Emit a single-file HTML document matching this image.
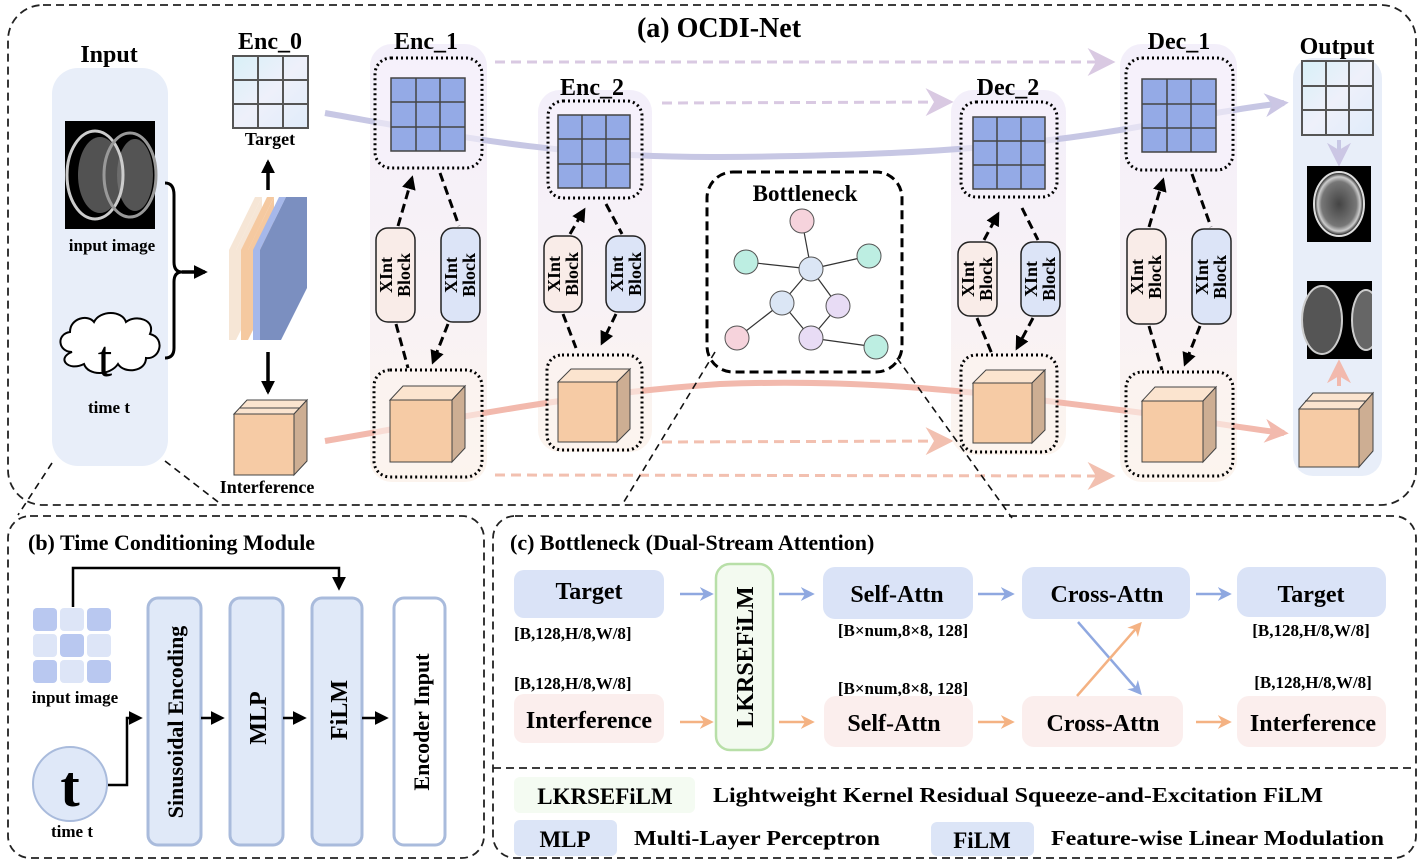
<!DOCTYPE html>
<html><head><meta charset="utf-8"><style>
html,body{margin:0;padding:0;background:#fff;}
svg{display:block;font-family:"Liberation Serif",serif;font-weight:bold;}
</style></head><body>
<svg width="1422" height="864" viewBox="0 0 1422 864" xmlns="http://www.w3.org/2000/svg">
<defs>
<linearGradient id="col" x1="0" y1="0" x2="0" y2="1"><stop offset="0" stop-color="#f3effa"/><stop offset="0.55" stop-color="#f8f2f6"/><stop offset="1" stop-color="#fcf4ee"/></linearGradient>
<linearGradient id="pas" x1="0" y1="0" x2="1" y2="1"><stop offset="0" stop-color="#d8f0f8"/><stop offset="0.5" stop-color="#eef0fa"/><stop offset="1" stop-color="#e0ecfa"/></linearGradient>
<marker id="mkb" viewBox="0 0 10 10" markerWidth="14" markerHeight="14" refX="8" refY="5" orient="auto" markerUnits="userSpaceOnUse"><path d="M0,0 L10,5 L0,10z" fill="#000"/></marker>
<marker id="mlav" viewBox="0 0 10 10" markerWidth="24" markerHeight="24" refX="8" refY="5" orient="auto" markerUnits="userSpaceOnUse"><path d="M0,0 L10,5 L0,10 L3,5z" fill="#cbc6e4"/></marker>
<marker id="mpch" viewBox="0 0 10 10" markerWidth="24" markerHeight="24" refX="8" refY="5" orient="auto" markerUnits="userSpaceOnUse"><path d="M0,0 L10,5 L0,10 L3,5z" fill="#f2b9ad"/></marker>
<marker id="mlavd" viewBox="0 0 10 10" markerWidth="28" markerHeight="28" refX="8" refY="5" orient="auto" markerUnits="userSpaceOnUse"><path d="M0,0 L10,5 L0,10 L3,5z" fill="#d9c9e2"/></marker>
<marker id="mpchd" viewBox="0 0 10 10" markerWidth="28" markerHeight="28" refX="8" refY="5" orient="auto" markerUnits="userSpaceOnUse"><path d="M0,0 L10,5 L0,10 L3,5z" fill="#f2c0b0"/></marker>
<marker id="mblu" viewBox="0 0 10 10" markerWidth="14" markerHeight="14" refX="8" refY="5" orient="auto" markerUnits="userSpaceOnUse"><path d="M0,0 L10,5 L0,10 L3,5z" fill="#8fa8e0"/></marker>
<marker id="morg" viewBox="0 0 10 10" markerWidth="14" markerHeight="14" refX="8" refY="5" orient="auto" markerUnits="userSpaceOnUse"><path d="M0,0 L10,5 L0,10 L3,5z" fill="#f4b283"/></marker>
<radialGradient id="brain" cx="0.5" cy="0.5" r="0.5"><stop offset="0" stop-color="#444"/><stop offset="0.7" stop-color="#777"/><stop offset="0.85" stop-color="#ccc"/><stop offset="1" stop-color="#000"/></radialGradient>
</defs>

<rect x="8" y="5" width="1408" height="500" rx="35" fill="none" stroke="#222" stroke-width="1.8" stroke-dasharray="8,5"/>
<rect x="8" y="516" width="476" height="342" rx="22" fill="none" stroke="#222" stroke-width="1.8" stroke-dasharray="8,5"/>
<rect x="493" y="516" width="923" height="342" rx="22" fill="none" stroke="#222" stroke-width="1.8" stroke-dasharray="8,5"/>
<line x1="493" y1="768" x2="1416" y2="768" stroke="#222" stroke-width="1.8" stroke-dasharray="8,5"/>

<text x="719" y="37" font-size="28" text-anchor="middle">(a) OCDI-Net</text>

<rect x="52" y="68" width="116" height="398" rx="26" fill="#e8eef9"/>
<text x="109" y="62" font-size="24" text-anchor="middle">Input</text>
<rect x="65" y="121" width="90" height="108" fill="#000"/>
<ellipse cx="100" cy="175" rx="22" ry="38" fill="#666" opacity="0.8"/>
<ellipse cx="135" cy="175" rx="18" ry="36" fill="#777" opacity="0.7"/>
<ellipse cx="95" cy="175" rx="28" ry="44" fill="none" stroke="#ccc" stroke-width="3"/>
<ellipse cx="130" cy="175" rx="26" ry="42" fill="none" stroke="#999" stroke-width="3"/>
<text x="112" y="251" font-size="17" text-anchor="middle">input image</text>
<path d="M72,352 C58,352 56,334 70,332 C70,318 88,314 94,322 C100,310 122,310 126,322 C136,314 156,320 150,334 C166,338 160,360 146,358 C146,372 124,374 118,364 C110,376 88,376 84,364 C68,372 56,358 72,352z" fill="#fff" stroke="#000" stroke-width="2"/>
<text x="105" y="376" font-size="52" font-weight="normal" text-anchor="middle">t</text>
<text x="109" y="413" font-size="17" text-anchor="middle">time t</text>
<path d="M165,183 Q174,183 174,195 L174,262 Q174,272 182,272 Q174,272 174,282 L174,348 Q174,358 165,358" fill="none" stroke="#000" stroke-width="3"/>
<line x1="182" y1="272" x2="205" y2="272" stroke="#000" stroke-width="3.5" marker-end="url(#mkb)"/>

<polygon points="229,250 255,197 262,197 236,250 236,340 229,340" fill="#f6e6d6"/>
<polygon points="236,250 262,197 262,288 236,340" fill="#f6e6d6"/>
<polygon points="241,250 267,197 274,197 248,250 248,340 241,340" fill="#f5c9a0"/>
<polygon points="248,250 274,197 274,288 248,340" fill="#f5c9a0"/>
<polygon points="253,250 279,197 286,197 260,250 260,340 253,340" fill="#a6b8ea"/>
<polygon points="260,250 286,197 307,197 307,288 281,340 260,340" fill="#7b8fc0"/>
<line x1="268" y1="190" x2="268" y2="162" stroke="#000" stroke-width="3.5" marker-end="url(#mkb)"/>
<line x1="268" y1="352" x2="268" y2="392" stroke="#000" stroke-width="3.5" marker-end="url(#mkb)"/>

<text x="270" y="49" font-size="24" text-anchor="middle">Enc_0</text>
<rect x="233" y="56" width="75" height="72" fill="url(#pas)" stroke="#555" stroke-width="2"/>
<line x1="258" y1="56" x2="258" y2="128" stroke="#555" stroke-width="2"/><line x1="283" y1="56" x2="283" y2="128" stroke="#555" stroke-width="2"/>
<line x1="233" y1="80" x2="308" y2="80" stroke="#555" stroke-width="2"/><line x1="233" y1="104" x2="308" y2="104" stroke="#555" stroke-width="2"/>
<text x="270" y="145" font-size="18" text-anchor="middle">Target</text>
<polygon points="234,414 247,400 307,400 294,414" fill="#fbe4cf" stroke="#444"/>
<line x1="240" y1="408" x2="300" y2="408" stroke="#444"/>
<rect x="234" y="414" width="60" height="61" fill="#f6cba5" stroke="#444"/>
<polygon points="294,414 307,400 307,461 294,475" fill="#cdae93" stroke="#444"/>
<text x="267" y="493" font-size="18" text-anchor="middle">Interference</text>

<line x1="495" y1="62" x2="1110" y2="62" stroke="#d9c9e2" stroke-width="3" stroke-dasharray="10,6" marker-end="url(#mlavd)"/>
<line x1="662" y1="103" x2="948" y2="102" stroke="#d9c9e2" stroke-width="3" stroke-dasharray="10,6" marker-end="url(#mlavd)"/>
<line x1="662" y1="442" x2="948" y2="441" stroke="#f2c0b0" stroke-width="3" stroke-dasharray="10,6" marker-end="url(#mpchd)"/>
<line x1="495" y1="475" x2="1110" y2="476" stroke="#f2c0b0" stroke-width="3" stroke-dasharray="10,6" marker-end="url(#mpchd)"/>

<rect x="370" y="44" width="117" height="438" rx="22" fill="url(#col)"/>
<rect x="538" y="90" width="114" height="362" rx="22" fill="url(#col)"/>
<rect x="951" y="90" width="115" height="365" rx="22" fill="url(#col)"/>
<rect x="1120" y="44" width="117" height="438" rx="22" fill="url(#col)"/>
<rect x="1293" y="58" width="89" height="418" rx="20" fill="#e8eef9"/>

<path d="M325,113 C450,135 560,158 720,157 C880,156 1000,150 1120,130 C1200,116 1240,108 1284,103" fill="none" stroke="#c7c7e4" stroke-width="6" marker-end="url(#mlav)"/>
<path d="M325,441 C450,420 560,395 720,384 C880,378 1000,395 1120,410 C1200,420 1240,428 1284,433" fill="none" stroke="#f2b9ad" stroke-width="6" marker-end="url(#mpch)"/>

<g>
<text x="426" y="49" font-size="24" text-anchor="middle">Enc_1</text>
<rect x="375" y="58" width="107" height="110" rx="16" fill="#f6f1fb" fill-opacity="0.6" stroke="#000" stroke-width="3" stroke-dasharray="2,3"/>
<rect x="391" y="78" width="74" height="73" fill="#94aae6" stroke="#444" stroke-width="1.5"/>
<line x1="416" y1="78" x2="416" y2="151" stroke="#444" stroke-width="1.5"/><line x1="440" y1="78" x2="440" y2="151" stroke="#444" stroke-width="1.5"/>
<line x1="391" y1="102" x2="465" y2="102" stroke="#444" stroke-width="1.5"/><line x1="391" y1="127" x2="465" y2="127" stroke="#444" stroke-width="1.5"/>
<rect x="374" y="370" width="108" height="107" rx="16" fill="#fbf4ef" fill-opacity="0.6" stroke="#000" stroke-width="3" stroke-dasharray="2,3"/>
<polygon points="390,400 403,386 465,386 452,400" fill="#fbe4cf" stroke="#444"/>
<rect x="390" y="400" width="62" height="62" fill="#f6cba5" stroke="#444"/>
<polygon points="452,400 465,386 465,448 452,462" fill="#cdae93" stroke="#444"/>
<rect x="376" y="228" width="39" height="94" rx="12" fill="#f9ece8" stroke="#222" stroke-width="1.5"/>
<rect x="441" y="228" width="39" height="94" rx="12" fill="#dce4f7" stroke="#222" stroke-width="1.5"/>
<text transform="translate(395,275) rotate(-90)" font-size="18" text-anchor="middle"><tspan x="0" y="-3">XInt</tspan><tspan x="0" y="15">Block</tspan></text>
<text transform="translate(460,275) rotate(-90)" font-size="18" text-anchor="middle"><tspan x="0" y="-3">XInt</tspan><tspan x="0" y="15">Block</tspan></text>
<line x1="398" y1="226" x2="412" y2="178" stroke="#000" stroke-width="3" stroke-dasharray="9,5" marker-end="url(#mkb)"/>
<line x1="440" y1="173" x2="459" y2="226" stroke="#000" stroke-width="3" stroke-dasharray="9,5"/>
<line x1="448" y1="324" x2="433" y2="362" stroke="#000" stroke-width="3" stroke-dasharray="9,5" marker-end="url(#mkb)"/>
<line x1="396" y1="324" x2="408" y2="368" stroke="#000" stroke-width="3" stroke-dasharray="9,5"/>
</g>

<g>
<text x="592" y="95" font-size="24" text-anchor="middle">Enc_2</text>
<rect x="548" y="101" width="94" height="97" rx="15" fill="#f6f1fb" fill-opacity="0.6" stroke="#000" stroke-width="3" stroke-dasharray="2,3"/>
<rect x="558" y="115" width="72" height="73" fill="#94aae6" stroke="#444" stroke-width="1.5"/>
<line x1="582" y1="115" x2="582" y2="188" stroke="#444" stroke-width="1.5"/><line x1="606" y1="115" x2="606" y2="188" stroke="#444" stroke-width="1.5"/>
<line x1="558" y1="139" x2="630" y2="139" stroke="#444" stroke-width="1.5"/><line x1="558" y1="164" x2="630" y2="164" stroke="#444" stroke-width="1.5"/>
<rect x="547" y="355" width="95" height="95" rx="15" fill="#fbf4ef" fill-opacity="0.6" stroke="#000" stroke-width="3" stroke-dasharray="2,3"/>
<polygon points="558,382 571,369 630,369 617,382" fill="#fbe4cf" stroke="#444"/>
<rect x="558" y="382" width="59" height="60" fill="#f6cba5" stroke="#444"/>
<polygon points="617,382 630,369 630,429 617,442" fill="#cdae93" stroke="#444"/>
<rect x="544" y="236" width="38" height="76" rx="12" fill="#f9ece8" stroke="#222" stroke-width="1.5"/>
<rect x="606" y="236" width="39" height="76" rx="12" fill="#dce4f7" stroke="#222" stroke-width="1.5"/>
<text transform="translate(563,274) rotate(-90)" font-size="18" text-anchor="middle"><tspan x="0" y="-3">XInt</tspan><tspan x="0" y="15">Block</tspan></text>
<text transform="translate(626,274) rotate(-90)" font-size="18" text-anchor="middle"><tspan x="0" y="-3">XInt</tspan><tspan x="0" y="15">Block</tspan></text>
<line x1="570" y1="234" x2="584" y2="210" stroke="#000" stroke-width="3" stroke-dasharray="9,5" marker-end="url(#mkb)"/>
<line x1="606" y1="204" x2="622" y2="234" stroke="#000" stroke-width="3" stroke-dasharray="9,5"/>
<line x1="616" y1="314" x2="602" y2="343" stroke="#000" stroke-width="3" stroke-dasharray="9,5" marker-end="url(#mkb)"/>
<line x1="563" y1="314" x2="576" y2="348" stroke="#000" stroke-width="3" stroke-dasharray="9,5"/>
</g>

<rect x="707" y="172" width="195" height="200" rx="26" fill="#fff" stroke="#000" stroke-width="3" stroke-dasharray="9,5"/>
<text x="805" y="201" font-size="23" text-anchor="middle">Bottleneck</text>
<g stroke="#333" stroke-width="1.2">
<line x1="802" y1="221" x2="811" y2="269"/><line x1="746" y1="262" x2="811" y2="269"/><line x1="869" y1="256" x2="811" y2="269"/>
<line x1="811" y1="269" x2="782" y2="303"/><line x1="811" y1="269" x2="838" y2="306"/><line x1="782" y1="303" x2="737" y2="338"/>
<line x1="782" y1="303" x2="811" y2="338"/><line x1="838" y1="306" x2="811" y2="338"/><line x1="811" y1="338" x2="876" y2="347"/>
</g>
<g stroke="#555" stroke-width="1">
<ellipse cx="802" cy="221" rx="12" ry="12" fill="#f6d3dc"/>
<ellipse cx="746" cy="262" rx="12" ry="12" fill="#bdeee2"/>
<ellipse cx="811" cy="269" rx="12" ry="12" fill="#dbe6f5"/>
<ellipse cx="869" cy="256" rx="12" ry="12" fill="#bdeee2"/>
<ellipse cx="782" cy="303" rx="12" ry="12" fill="#dbe6f5"/>
<ellipse cx="838" cy="306" rx="12" ry="12" fill="#e8dcf5"/>
<ellipse cx="737" cy="338" rx="12" ry="12" fill="#f6d3dc"/>
<ellipse cx="811" cy="338" rx="12" ry="12" fill="#e8dcf5"/>
<ellipse cx="876" cy="347" rx="12" ry="12" fill="#bdeee2"/>
</g>

<g>
<text x="1008" y="95" font-size="24" text-anchor="middle">Dec_2</text>
<rect x="961" y="102" width="96" height="95" rx="15" fill="#f6f1fb" fill-opacity="0.6" stroke="#000" stroke-width="3" stroke-dasharray="2,3"/>
<rect x="973" y="117" width="72" height="72" fill="#94aae6" stroke="#444" stroke-width="1.5"/>
<line x1="997" y1="117" x2="997" y2="189" stroke="#444" stroke-width="1.5"/><line x1="1021" y1="117" x2="1021" y2="189" stroke="#444" stroke-width="1.5"/>
<line x1="973" y1="141" x2="1045" y2="141" stroke="#444" stroke-width="1.5"/><line x1="973" y1="165" x2="1045" y2="165" stroke="#444" stroke-width="1.5"/>
<rect x="961" y="355" width="96" height="97" rx="15" fill="#fbf4ef" fill-opacity="0.6" stroke="#000" stroke-width="3" stroke-dasharray="2,3"/>
<polygon points="973,383 986,370 1045,370 1032,383" fill="#fbe4cf" stroke="#444"/>
<rect x="973" y="383" width="59" height="60" fill="#f6cba5" stroke="#444"/>
<polygon points="1032,383 1045,370 1045,430 1032,443" fill="#cdae93" stroke="#444"/>
<rect x="958" y="242" width="39" height="74" rx="12" fill="#f9ece8" stroke="#222" stroke-width="1.5"/>
<rect x="1021" y="242" width="39" height="74" rx="12" fill="#dce4f7" stroke="#222" stroke-width="1.5"/>
<text transform="translate(977,279) rotate(-90)" font-size="18" text-anchor="middle"><tspan x="0" y="-3">XInt</tspan><tspan x="0" y="15">Block</tspan></text>
<text transform="translate(1040,279) rotate(-90)" font-size="18" text-anchor="middle"><tspan x="0" y="-3">XInt</tspan><tspan x="0" y="15">Block</tspan></text>
<line x1="984" y1="240" x2="998" y2="214" stroke="#000" stroke-width="3" stroke-dasharray="9,5" marker-end="url(#mkb)"/>
<line x1="1022" y1="208" x2="1038" y2="240" stroke="#000" stroke-width="3" stroke-dasharray="9,5"/>
<line x1="1033" y1="318" x2="1017" y2="348" stroke="#000" stroke-width="3" stroke-dasharray="9,5" marker-end="url(#mkb)"/>
<line x1="977" y1="318" x2="992" y2="354" stroke="#000" stroke-width="3" stroke-dasharray="9,5"/>
</g>

<g>
<text x="1179" y="49" font-size="24" text-anchor="middle">Dec_1</text>
<rect x="1126" y="58" width="107" height="112" rx="16" fill="#f6f1fb" fill-opacity="0.6" stroke="#000" stroke-width="3" stroke-dasharray="2,3"/>
<rect x="1142" y="79" width="74" height="73" fill="#94aae6" stroke="#444" stroke-width="1.5"/>
<line x1="1167" y1="79" x2="1167" y2="152" stroke="#444" stroke-width="1.5"/><line x1="1191" y1="79" x2="1191" y2="152" stroke="#444" stroke-width="1.5"/>
<line x1="1142" y1="104" x2="1216" y2="104" stroke="#444" stroke-width="1.5"/><line x1="1142" y1="128" x2="1216" y2="128" stroke="#444" stroke-width="1.5"/>
<rect x="1126" y="372" width="107" height="104" rx="16" fill="#fbf4ef" fill-opacity="0.6" stroke="#000" stroke-width="3" stroke-dasharray="2,3"/>
<polygon points="1142,401 1155,387 1216,387 1203,401" fill="#fbe4cf" stroke="#444"/>
<rect x="1142" y="401" width="61" height="61" fill="#f6cba5" stroke="#444"/>
<polygon points="1203,401 1216,387 1216,448 1203,462" fill="#cdae93" stroke="#444"/>
<rect x="1127" y="229" width="39" height="95" rx="12" fill="#f9ece8" stroke="#222" stroke-width="1.5"/>
<rect x="1192" y="229" width="39" height="95" rx="12" fill="#dce4f7" stroke="#222" stroke-width="1.5"/>
<text transform="translate(1146,277) rotate(-90)" font-size="18" text-anchor="middle"><tspan x="0" y="-3">XInt</tspan><tspan x="0" y="15">Block</tspan></text>
<text transform="translate(1211,277) rotate(-90)" font-size="18" text-anchor="middle"><tspan x="0" y="-3">XInt</tspan><tspan x="0" y="15">Block</tspan></text>
<line x1="1149" y1="227" x2="1163" y2="180" stroke="#000" stroke-width="3" stroke-dasharray="9,5" marker-end="url(#mkb)"/>
<line x1="1192" y1="174" x2="1211" y2="227" stroke="#000" stroke-width="3" stroke-dasharray="9,5"/>
<line x1="1200" y1="326" x2="1185" y2="364" stroke="#000" stroke-width="3" stroke-dasharray="9,5" marker-end="url(#mkb)"/>
<line x1="1149" y1="326" x2="1162" y2="370" stroke="#000" stroke-width="3" stroke-dasharray="9,5"/>
</g>

<text x="1337" y="54" font-size="24" text-anchor="middle">Output</text>
<rect x="1302" y="61" width="71" height="74" fill="url(#pas)" stroke="#555" stroke-width="2"/>
<line x1="1326" y1="61" x2="1326" y2="135" stroke="#555" stroke-width="2"/><line x1="1349" y1="61" x2="1349" y2="135" stroke="#555" stroke-width="2"/>
<line x1="1302" y1="86" x2="1373" y2="86" stroke="#555" stroke-width="2"/><line x1="1302" y1="110" x2="1373" y2="110" stroke="#555" stroke-width="2"/>
<line x1="1339" y1="140" x2="1339" y2="162" stroke="#c7c7e4" stroke-width="4" marker-end="url(#mlav)"/>
<rect x="1307" y="166" width="64" height="76" fill="#000"/>
<ellipse cx="1339" cy="204" rx="25" ry="32" fill="url(#brain)" stroke="#ddd" stroke-width="2"/>
<rect x="1307" y="281" width="65" height="78" fill="#000"/>
<ellipse cx="1322" cy="320" rx="20" ry="34" fill="#555" stroke="#ccc" stroke-width="2"/>
<ellipse cx="1366" cy="320" rx="14" ry="30" fill="#666" stroke="#ccc" stroke-width="2"/>
<rect x="1372" y="281" width="10" height="78" fill="#e8eef9"/>
<line x1="1339" y1="386" x2="1339" y2="364" stroke="#f2b9ad" stroke-width="4" marker-end="url(#mpch)"/>
<polygon points="1299,409 1313,393 1373,393 1359,409" fill="#fbe4cf" stroke="#444"/>
<line x1="1305" y1="401" x2="1367" y2="401" stroke="#444"/>
<rect x="1299" y="409" width="60" height="58" fill="#f6cba5" stroke="#444"/>
<polygon points="1359,409 1373,393 1373,451 1359,467" fill="#cdae93" stroke="#444"/>

<g stroke="#111" stroke-width="1.6" stroke-dasharray="7,5">
<line x1="52" y1="463" x2="18" y2="515"/>
<line x1="165" y1="461" x2="222" y2="505"/>
<line x1="715" y1="352" x2="622" y2="505"/>
<line x1="897" y1="358" x2="1012" y2="518"/>
</g>

<text x="28" y="550" font-size="22">(b) Time Conditioning Module</text>
<rect x="33" y="608" width="24" height="23" rx="4" fill="#b9c8f0"/><rect x="60" y="608" width="24" height="23" rx="4" fill="#dde5f7"/><rect x="87" y="608" width="24" height="23" rx="4" fill="#b9c8f0"/>
<rect x="33" y="634" width="24" height="23" rx="4" fill="#dde5f7"/><rect x="60" y="634" width="24" height="23" rx="4" fill="#b9c8f0"/><rect x="87" y="634" width="24" height="23" rx="4" fill="#dde5f7"/>
<rect x="33" y="660" width="24" height="23" rx="4" fill="#b9c8f0"/><rect x="60" y="660" width="24" height="23" rx="4" fill="#dde5f7"/><rect x="87" y="660" width="24" height="23" rx="4" fill="#b9c8f0"/>
<text x="75" y="703" font-size="17" text-anchor="middle">input image</text>
<circle cx="70" cy="784" r="37" fill="#dfe8f8" stroke="#a9bbdc" stroke-width="2"/>
<text x="70" y="806" font-size="58" text-anchor="middle">t</text>
<text x="72" y="837" font-size="17" text-anchor="middle">time t</text>
<polyline points="73,607 73,568 339,568 339,588" fill="none" stroke="#000" stroke-width="2.5" marker-end="url(#mkb)"/>
<polyline points="108,785 127,785 127,718 140,718" fill="none" stroke="#000" stroke-width="2.5" marker-end="url(#mkb)"/>
<g stroke="#a9bbdc" stroke-width="3">
<rect x="148" y="598" width="53" height="247" rx="10" fill="#e0e9f8"/>
<rect x="230" y="598" width="53" height="247" rx="10" fill="#e0e9f8"/>
<rect x="312" y="598" width="50" height="247" rx="10" fill="#e0e9f8"/>
<rect x="394" y="598" width="51" height="247" rx="10" fill="#fff"/>
</g>
<g stroke="#000" stroke-width="2.5">
<line x1="201" y1="718" x2="222" y2="718" marker-end="url(#mkb)"/>
<line x1="283" y1="718" x2="304" y2="718" marker-end="url(#mkb)"/>
<line x1="362" y1="718" x2="386" y2="718" marker-end="url(#mkb)"/>
</g>
<text transform="translate(183,722) rotate(-90)" font-size="22" text-anchor="middle">Sinusoidal Encoding</text>
<text transform="translate(266,718) rotate(-90)" font-size="24" text-anchor="middle">MLP</text>
<text transform="translate(347,710) rotate(-90)" font-size="24" text-anchor="middle">FiLM</text>
<text transform="translate(429,722) rotate(-90)" font-size="22" text-anchor="middle">Encoder Input</text>

<text x="510" y="550" font-size="22">(c) Bottleneck (Dual-Stream Attention)</text>
<rect x="514" y="570" width="150" height="48" rx="10" fill="#dae3f7"/>
<text x="589" y="599" font-size="24" text-anchor="middle">Target</text>
<text x="514" y="639" font-size="17">[B,128,H/8,W/8]</text>
<text x="514" y="689" font-size="17">[B,128,H/8,W/8]</text>
<rect x="514" y="694" width="150" height="49" rx="10" fill="#fbeeed"/>
<text x="589" y="728" font-size="24" text-anchor="middle">Interference</text>
<rect x="716" y="564" width="57" height="186" rx="14" fill="#f3faf0" stroke="#b8dfa8" stroke-width="2.5"/>
<text transform="translate(753,657) rotate(-90)" font-size="24" text-anchor="middle">LKRSEFiLM</text>
<rect x="823" y="567" width="150" height="52" rx="12" fill="#dae3f7"/>
<text x="897" y="602" font-size="24" text-anchor="middle">Self-Attn</text>
<text x="903" y="636" font-size="17" text-anchor="middle">[B×num,8×8, 128]</text>
<text x="903" y="694" font-size="17" text-anchor="middle">[B×num,8×8, 128]</text>
<rect x="824" y="696" width="149" height="51" rx="12" fill="#fbeeed"/>
<text x="894" y="731" font-size="24" text-anchor="middle">Self-Attn</text>
<rect x="1022" y="567" width="168" height="52" rx="12" fill="#dae3f7"/>
<text x="1107" y="602" font-size="24" text-anchor="middle">Cross-Attn</text>
<rect x="1022" y="696" width="161" height="51" rx="12" fill="#fbeeed"/>
<text x="1103" y="731" font-size="24" text-anchor="middle">Cross-Attn</text>
<rect x="1237" y="567" width="149" height="50" rx="12" fill="#dae3f7"/>
<text x="1311" y="602" font-size="24" text-anchor="middle">Target</text>
<text x="1311" y="636" font-size="17" text-anchor="middle">[B,128,H/8,W/8]</text>
<text x="1313" y="688" font-size="17" text-anchor="middle">[B,128,H/8,W/8]</text>
<rect x="1237" y="696" width="149" height="51" rx="12" fill="#fbeeed"/>
<text x="1313" y="731" font-size="24" text-anchor="middle">Interference</text>
<g stroke="#8fa8e0" stroke-width="2.5">
<line x1="680" y1="594" x2="711" y2="594" marker-end="url(#mblu)"/>
<line x1="779" y1="594" x2="812" y2="594" marker-end="url(#mblu)"/>
<line x1="978" y1="594" x2="1012" y2="594" marker-end="url(#mblu)"/>
<line x1="1196" y1="594" x2="1229" y2="594" marker-end="url(#mblu)"/>
<line x1="1078" y1="622" x2="1140" y2="693" marker-end="url(#mblu)"/>
</g>
<g stroke="#f4b283" stroke-width="2.5">
<line x1="680" y1="722" x2="711" y2="722" marker-end="url(#morg)"/>
<line x1="779" y1="722" x2="812" y2="722" marker-end="url(#morg)"/>
<line x1="978" y1="722" x2="1012" y2="722" marker-end="url(#morg)"/>
<line x1="1196" y1="722" x2="1229" y2="722" marker-end="url(#morg)"/>
<line x1="1077" y1="696" x2="1140" y2="624" marker-end="url(#morg)"/>
</g>

<rect x="514" y="777" width="181" height="36" rx="6" fill="#f4fbf2"/>
<text x="605" y="804" font-size="23" text-anchor="middle">LKRSEFiLM</text>
<text x="713" y="802" font-size="21" textLength="610" lengthAdjust="spacingAndGlyphs">Lightweight Kernel Residual Squeeze-and-Excitation FiLM</text>
<rect x="514" y="820" width="103" height="36" rx="6" fill="#dce5f7"/>
<text x="565" y="847" font-size="23" text-anchor="middle">MLP</text>
<text x="634" y="845" font-size="21" textLength="246" lengthAdjust="spacingAndGlyphs">Multi-Layer Perceptron</text>
<rect x="931" y="822" width="103" height="34" rx="6" fill="#dce5f7"/>
<text x="982" y="848" font-size="23" text-anchor="middle">FiLM</text>
<text x="1051" y="845" font-size="21" textLength="333" lengthAdjust="spacingAndGlyphs">Feature-wise Linear Modulation</text>
</svg>
</body></html>
